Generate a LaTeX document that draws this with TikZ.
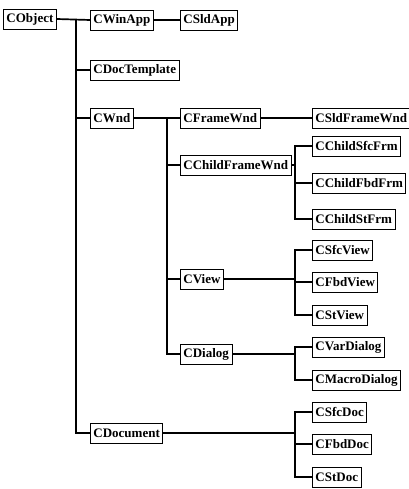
\documentclass[tikz,border=0pt]{standalone}
\usepackage{fontspec}
\setmainfont{Liberation Serif}
\usetikzlibrary{arrows,shapes,calc,positioning}
\begin{document}
\begin{tikzpicture}[x=1pt,y=-1pt]
		\tikzstyle{every node}=[font=\fontsize{13}{15}\selectfont\bfseries]
		\tikzstyle{cls}=[draw, line width=0.9pt, anchor=west, minimum height=20pt, inner xsep=3pt, inner ysep=0pt]
		\tikzstyle{link}=[line width=1.7pt]
		\useasboundingbox (0,0) rectangle (408,489);
		\node [cls] (obj) at (3,19) {CObject};
		\node [cls] (app) at (90,20) {CWinApp};
		\node [cls] (sldapp) at (180,20) {CSldApp};
		\node [cls] (tpl) at (90,70) {CDocTemplate};
		\node [cls] (wnd) at (90,118) {CWnd};
		\node [cls] (frm) at (180,118) {CFrameWnd};
		\node [cls] (sldfrm) at (312,118) {CSldFrameWnd};
		\node [cls] (chfrm) at (180,165) {CChildFrameWnd};
		\node [cls] (chsfc) at (312,146) {CChildSfcFrm};
		\node [cls] (chfbd) at (312,183) {CChildFbdFrm};
		\node [cls] (chst) at (312,219) {CChildStFrm};
		\node [cls] (view) at (180,279) {CView};
		\node [cls] (sfcview) at (312,250) {CSfcView};
		\node [cls] (fbdview) at (312,282) {CFbdView};
		\node [cls] (stview) at (312,315) {CStView};
		\node [cls] (dlg) at (180,354) {CDialog};
		\node [cls] (vardlg) at (312,347) {CVarDialog};
		\node [cls] (macdlg) at (312,380) {CMacroDialog};
		\node [cls] (doc) at (90,433) {CDocument};
		\node [cls] (sfcdoc) at (312,412) {CSfcDoc};
		\node [cls] (fbddoc) at (312,444) {CFbdDoc};
		\node [cls] (stdoc) at (312,477) {CStDoc};
		% trunks
		\coordinate (k1) at (76,0);
		\coordinate (k2) at (167,0);
		\coordinate (k3) at (295,0);
		\draw [link] (obj.east) -- (app.west);
		\draw [link] (app.east) -- (sldapp.west);
		\draw [link] (obj.east -| k1) |- (doc.west);
		\draw [link] (k1 |- tpl.west) -- (tpl.west);
		\draw [link] (k1 |- wnd.west) -- (wnd.west);
		\draw [link] (wnd.east) -- (frm.west);
		\draw [link] (frm.east) -- (sldfrm.west);
		\draw [link] (wnd.east -| k2) |- (dlg.west);
		\draw [link] (k2 |- chfrm.west) -- (chfrm.west);
		\draw [link] (k2 |- view.west) -- (view.west);
		\draw [link] (chfrm.east) -- (chfrm.east -| k3);
		\draw [link] (chsfc.west) -| (k3 |- chst.west) -- (chst.west);
		\draw [link] (k3 |- chfbd.west) -- (chfbd.west);
		\draw [link] (view.east) -- (view.east -| k3);
		\draw [link] (sfcview.west) -| (k3 |- stview.west) -- (stview.west);
		\draw [link] (k3 |- fbdview.west) -- (fbdview.west);
		\draw [link] (dlg.east) -- (dlg.east -| k3);
		\draw [link] (vardlg.west) -| (k3 |- macdlg.west) -- (macdlg.west);
		\draw [link] (doc.east) -- (doc.east -| k3);
		\draw [link] (sfcdoc.west) -| (k3 |- stdoc.west) -- (stdoc.west);
		\draw [link] (k3 |- fbddoc.west) -- (fbddoc.west);
	\end{tikzpicture}
\end{document}
